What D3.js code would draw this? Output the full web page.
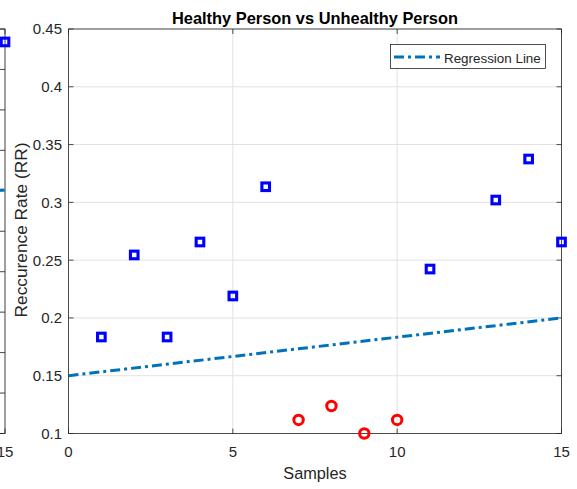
<!DOCTYPE html>
<html>
<head>
<meta charset="utf-8">
<script src="https://cdn.jsdelivr.net/npm/d3@7/dist/d3.min.js"></script>
<style>
  body { margin: 0; background: #fff; }
  svg { display: block; }
  text { font-family: Arial, "Liberation Sans", Helvetica, sans-serif; fill: #262626; }
</style>
</head>
<body>
<svg id="chart" width="577" height="489"></svg>
<script>
// Recurrence rate per sample, healthy group (blue squares)
const healthySamples = [1, 2, 3, 4, 5, 6, 11, 13, 14, 15];
const healthyRR = [0.1835, 0.2545, 0.1835, 0.2657, 0.219, 0.3135, 0.2423, 0.302, 0.3375, 0.2657];

// Recurrence rate per sample, unhealthy group (red circles)
const unhealthySamples = [7, 8, 9, 10];
const unhealthyRR = [0.1117, 0.1238, 0.1, 0.1117];

// Fitted regression line end points
const regressionSamples = [0, 15];
const regressionRR = [0.15, 0.2];

// Axis ticks
const xTicks = [0, 5, 10, 15];
const xTickLabels = ["0", "5", "10", "15"];
const yTicks = [0.1, 0.15, 0.2, 0.25, 0.3, 0.35, 0.4, 0.45];
const yTickLabels = ["0.1", "0.15", "0.2", "0.25", "0.3", "0.35", "0.4", "0.45"];

// Neighbouring subplot on the left (only its right edge is in view)
const leftSamples = [15];
const leftRR = [0.484];
const leftRegressionSamples = [0, 15];
const leftRegressionRR = [0.27, 0.301];
const leftYTicks = [0, 0.05, 0.1, 0.15, 0.2, 0.25, 0.3, 0.35, 0.4, 0.45, 0.5];
const leftXLabelTicks = [15];
const leftXLabels = ["15"];

const svg = d3.select("#chart");
const AX = "#262626";
const GRID = "#e2e2e2";
const TICK = 5;

const plotTop = 29, plotBottom = 433.5;

function drawFrame(g, x, y, xt, yt) {
  const [x0, x1] = x.range();
  // grid
  g.selectAll(null).data(xt).join("line")
    .attr("x1", d => x(d)).attr("x2", d => x(d))
    .attr("y1", plotTop).attr("y2", plotBottom)
    .attr("stroke", GRID).attr("stroke-width", 1);
  g.selectAll(null).data(yt).join("line")
    .attr("x1", x0).attr("x2", x1)
    .attr("y1", d => y(d)).attr("y2", d => y(d))
    .attr("stroke", GRID).attr("stroke-width", 1);
  // box
  g.append("rect").attr("x", x0).attr("y", plotTop)
    .attr("width", x1 - x0).attr("height", plotBottom - plotTop)
    .attr("fill", "none").attr("stroke", AX).attr("stroke-width", 0.8);
  // inward ticks on all four sides
  g.selectAll(null).data(xt).join("line")
    .attr("x1", d => x(d)).attr("x2", d => x(d))
    .attr("y1", plotBottom).attr("y2", plotBottom - TICK)
    .attr("stroke", AX).attr("stroke-width", 0.8);
  g.selectAll(null).data(xt).join("line")
    .attr("x1", d => x(d)).attr("x2", d => x(d))
    .attr("y1", plotTop).attr("y2", plotTop + TICK)
    .attr("stroke", AX).attr("stroke-width", 0.8);
  g.selectAll(null).data(yt).join("line")
    .attr("x1", x0).attr("x2", x0 + TICK)
    .attr("y1", d => y(d)).attr("y2", d => y(d))
    .attr("stroke", AX).attr("stroke-width", 0.8);
  g.selectAll(null).data(yt).join("line")
    .attr("x1", x1).attr("x2", x1 - TICK)
    .attr("y1", d => y(d)).attr("y2", d => y(d))
    .attr("stroke", AX).attr("stroke-width", 0.8);
}

function drawRegression(g, x, y, xs, ys, clipId) {
  const pts = xs.map((d, i) => [x(d), y(ys[i])]);
  g.append("path")
    .attr("d", d3.line()(pts))
    .attr("clip-path", `url(#${clipId})`)
    .attr("fill", "none")
    .attr("stroke", "#0072BD")
    .attr("stroke-width", 3)
    .attr("stroke-dasharray", "10,4,3,4");
}

function drawSquares(g, x, y, xs, ys) {
  const s = 7.6;
  g.selectAll(null).data(xs).join("rect")
    .attr("x", d => x(d) - s / 2)
    .attr("y", (d, i) => y(ys[i]) - s / 2)
    .attr("width", s).attr("height", s)
    .attr("fill", "none").attr("stroke", "#0000FF").attr("stroke-width", 3.1);
}

function drawCircles(g, x, y, xs, ys) {
  g.selectAll(null).data(xs).join("circle")
    .attr("cx", d => x(d))
    .attr("cy", (d, i) => y(ys[i]))
    .attr("r", 4.7)
    .attr("fill", "none").attr("stroke", "#FF0000").attr("stroke-width", 3);
}

const defs = svg.append("defs");

// ---------- left subplot (partially visible) ----------
const lx = d3.scaleLinear().domain([0, 15]).range([5 - 493, 5]);
const ly = d3.scaleLinear().domain([0, 0.5]).range([plotBottom, plotTop]);
defs.append("clipPath").attr("id", "clipL").append("rect")
  .attr("x", lx.range()[0]).attr("y", plotTop)
  .attr("width", lx.range()[1] - lx.range()[0]).attr("height", plotBottom - plotTop);
const gL = svg.append("g");
drawFrame(gL, lx, ly, xTicks, leftYTicks);
drawRegression(gL, lx, ly, leftRegressionSamples, leftRegressionRR, "clipL");
drawSquares(gL, lx, ly, leftSamples, leftRR);
gL.selectAll(null).data(leftXLabelTicks).join("text")
  .attr("x", d => lx(d)).attr("y", 456.5)
  .attr("text-anchor", "middle").attr("font-size", 15)
  .text((d, i) => leftXLabels[i]);

// ---------- main subplot ----------
const x = d3.scaleLinear().domain([0, 15]).range([68.5, 561.5]);
const y = d3.scaleLinear().domain([0.1, 0.45]).range([plotBottom, plotTop]);
defs.append("clipPath").attr("id", "clipM").append("rect")
  .attr("x", 68.5).attr("y", plotTop).attr("width", 493).attr("height", plotBottom - plotTop);

const g = svg.append("g");
g.append("rect").attr("x", 68.5).attr("y", plotTop).attr("width", 493)
  .attr("height", plotBottom - plotTop).attr("fill", "#fff");
drawFrame(g, x, y, xTicks, yTicks);
drawRegression(g, x, y, regressionSamples, regressionRR, "clipM");
drawSquares(g, x, y, healthySamples, healthyRR);
drawCircles(g, x, y, unhealthySamples, unhealthyRR);

// tick labels
g.selectAll(null).data(xTicks).join("text")
  .attr("x", d => x(d)).attr("y", 456.5)
  .attr("text-anchor", "middle").attr("font-size", 15)
  .text((d, i) => xTickLabels[i]);
g.selectAll(null).data(yTicks).join("text")
  .attr("x", 62).attr("y", d => y(d)).attr("dy", "0.36em")
  .attr("text-anchor", "end").attr("font-size", 15)
  .text((d, i) => yTickLabels[i]);

// axis labels and title
g.append("text").attr("x", 315).attr("y", 479)
  .attr("text-anchor", "middle").attr("font-size", 16.3).text("Samples");
g.append("text")
  .attr("transform", "translate(26.5,230) rotate(-90)")
  .attr("text-anchor", "middle").attr("font-size", 17.3).text("Reccurence Rate (RR)");
g.append("text").attr("x", 315).attr("y", 23.5)
  .attr("text-anchor", "middle").attr("font-size", 16.4).attr("font-weight", "bold")
  .style("fill", "#000")
  .text("Healthy Person vs Unhealthy Person");

// legend
const lg = svg.append("g");
lg.append("rect").attr("x", 390.5).attr("y", 44.5).attr("width", 155).attr("height", 24)
  .attr("fill", "#fff").attr("stroke", AX).attr("stroke-width", 0.8);
lg.append("line").attr("x1", 394).attr("x2", 440).attr("y1", 57).attr("y2", 57)
  .attr("stroke", "#0072BD").attr("stroke-width", 3).attr("stroke-dasharray", "10,4,3,4");
lg.append("text").attr("x", 444).attr("y", 62.5).attr("font-size", 13.4).text("Regression Line");
</script>
</body>
</html>
